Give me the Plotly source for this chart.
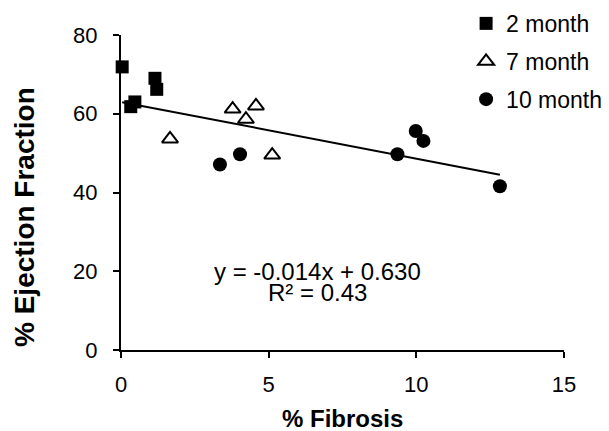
import plotly.graph_objects as go

# Data
m2_x = [0.04, 0.33, 0.47, 1.15, 1.21]
m2_y = [71.9, 61.8, 63.0, 69.0, 66.2]
m7_x = [1.66, 3.78, 4.57, 4.23, 5.12]
m7_y = [53.6, 61.2, 62.0, 58.6, 49.5]
m10_x = [3.35, 4.03, 9.36, 9.98, 10.24, 12.83]
m10_y = [47.1, 49.7, 49.7, 55.6, 53.1, 41.6]
series_names = ["2 month", "7 month", "10 month"]
trend_slope = -1.44
trend_intercept = 63.0
eq_text = "y = -0.014x + 0.630"
r2_text = "R² = 0.43"
x_ticks = [0, 5, 10, 15]
y_ticks = [0, 20, 40, 60, 80]

FONT = "Liberation Sans, Arial, sans-serif"

all_x = m2_x + m7_x + m10_x
tx = [min(all_x), max(all_x)]
ty = [trend_intercept + trend_slope * v for v in tx]

fig = go.Figure()
fig.add_trace(go.Scatter(x=tx, y=ty, mode="lines", line=dict(color="black", width=2),
                         showlegend=False, hoverinfo="skip", cliponaxis=False))
fig.add_trace(go.Scatter(x=m2_x, y=m2_y, mode="markers", name=series_names[0], legendgroup="a",
                         marker=dict(symbol="square", size=13, color="black"), cliponaxis=False))
fig.add_trace(go.Scatter(x=m7_x, y=m7_y, mode="markers", name=series_names[1], legendgroup="b",
                         marker=dict(symbol="triangle-up-open", size=14, color="black",
                                     line=dict(color="black", width=2)), cliponaxis=False))
fig.add_trace(go.Scatter(x=m10_x, y=m10_y, mode="markers", name=series_names[2], legendgroup="c",
                         marker=dict(symbol="circle", size=14, color="black"), cliponaxis=False))

fig.update_layout(
    width=609, height=431,
    margin=dict(l=113, r=53, t=27, b=89, autoexpand=False),
    paper_bgcolor="white", plot_bgcolor="white",
    font=dict(family=FONT, color="black", size=22),
    legend=dict(x=0.779, xanchor="left", y=1.105, yanchor="top",
                font=dict(size=23, family=FONT, color="black"),
                tracegroupgap=5, bgcolor="rgba(0,0,0,0)", itemwidth=30),
    xaxis=dict(range=[0, 15], tickvals=x_ticks, showgrid=False, zeroline=False,
               showline=True, linecolor="black", linewidth=2,
               ticks="outside", ticklen=6, tickwidth=2, tickcolor="black",
               tickfont=dict(size=22, family=FONT), ticklabelstandoff=8, automargin=False),
    yaxis=dict(range=[0, 80], tickvals=y_ticks, showgrid=False, zeroline=False,
               showline=True, linecolor="black", linewidth=2,
               ticks="outside", ticklen=6, tickwidth=2, tickcolor="black",
               tickfont=dict(size=22, family=FONT), ticklabelstandoff=11, automargin=False),
    annotations=[
        dict(text=eq_text, x=6.67, y=19.9, xref="x", yref="y", showarrow=False,
             font=dict(size=24, family=FONT), xanchor="center", yanchor="middle"),
        dict(text=r2_text, x=6.67, y=14.5, xref="x", yref="y", showarrow=False,
             font=dict(size=24, family=FONT), xanchor="center", yanchor="middle"),
        dict(text="<b>% Fibrosis</b>", x=0.5, y=(350 - 418) / 315, xref="paper", yref="paper",
             showarrow=False, font=dict(size=24, family=FONT), xanchor="center", yanchor="middle"),
        dict(text="<b>% Ejection Fraction</b>", x=(25 - 121) / 443, y=(350 - 217) / 315,
             xref="paper", yref="paper", showarrow=False, textangle=-90,
             font=dict(size=28, family=FONT), xanchor="center", yanchor="middle"),
    ],
)

fig.write_html("out.html")
